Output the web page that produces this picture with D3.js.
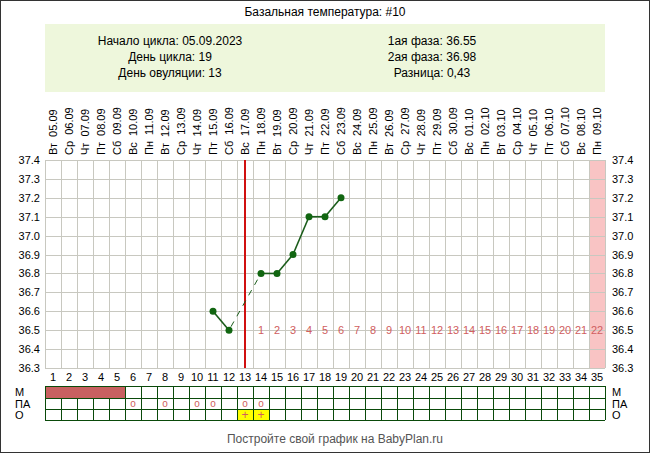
<!DOCTYPE html><html><head><meta charset="utf-8">
<script src="https://cdn.jsdelivr.net/npm/d3@7"></script>
<style>body{margin:0}svg{font-family:Arial,"Liberation Sans",sans-serif}</style></head><body>
<svg id="c" width="650" height="453"></svg>
<script>
const dates=["Вт 05.09","Ср 06.09","Чт 07.09","Пт 08.09","Сб 09.09","Вс 10.09","Пн 11.09","Вт 12.09","Ср 13.09","Чт 14.09","Пт 15.09","Сб 16.09","Вс 17.09","Пн 18.09","Вт 19.09","Ср 20.09","Чт 21.09","Пт 22.09","Сб 23.09","Вс 24.09","Пн 25.09","Вт 26.09","Ср 27.09","Чт 28.09","Пт 29.09","Сб 30.09","Вс 01.10","Пн 02.10","Вт 03.10","Ср 04.10","Чт 05.10","Пт 06.10","Сб 07.10","Вс 08.10","Пн 09.10"];
const tempDays=[11,12,14,15,16,17,18,19];
const temps=[36.6,36.5,36.8,36.8,36.9,37.1,37.1,37.2];
const yTicks=[36.3,36.4,36.5,36.6,36.7,36.8,36.9,37.0,37.1,37.2,37.3,37.4];
const mDays=[1,2,3,4,5];
const paDays=[6,8,10,11,13,14];
const oDays=[13,14];
const ovuDay=13;
const infoLeft=["Начало цикла: 05.09.2023","День цикла: 19","День овуляции: 13"];
const infoRight=["1ая фаза: 36.55","2ая фаза: 36.98","Разница: 0,43"];

const svg=d3.select("#c");
const L=45,R=605,T=160,B=368;
const x=d3.scaleBand().domain(d3.range(1,36)).range([L,R]);
const bw=x.bandwidth();
const cx=d=>x(d)+bw/2;
const y=d3.scaleLinear().domain([36.3,37.4]).range([B,T]);
svg.append("rect").attr("x",0.5).attr("y",0.5).attr("width",649).attr("height",452).attr("fill","#fff").attr("stroke","#333");
svg.append("text").attr("x",325).attr("y",16).attr("text-anchor","middle").attr("font-size",12).text("Базальная температура: #10");
svg.append("rect").attr("x",L).attr("y",24).attr("width",R-L).attr("height",68).attr("fill","#eef7dc");
infoLeft.forEach((t,i)=>svg.append("text").attr("x",170).attr("y",45+i*16).attr("text-anchor","middle").attr("font-size",12).text(t));
infoRight.forEach((t,i)=>svg.append("text").attr("x",432).attr("y",45+i*16).attr("text-anchor","middle").attr("font-size",12).text(t));
svg.append("rect").attr("x",x(35)).attr("y",T).attr("width",bw).attr("height",B-T).attr("fill","#f9c4c4");
const g=svg.append("g").attr("stroke","#c8c8c0").attr("stroke-width",1);
yTicks.forEach(v=>g.append("line").attr("x1",L).attr("x2",R).attr("y1",Math.round(y(v))+.5).attr("y2",Math.round(y(v))+.5));
d3.range(1,37).forEach(d=>{const xx=d<36?x(d):R;g.append("line").attr("x1",Math.round(xx)+.5).attr("x2",Math.round(xx)+.5).attr("y1",T).attr("y2",B);});
yTicks.forEach(v=>{svg.append("text").attr("x",L-5).attr("y",y(v)+4).attr("text-anchor","end").attr("font-size",11).text(v.toFixed(1));
svg.append("text").attr("x",R+7).attr("y",y(v)+4).attr("font-size",11).text(v.toFixed(1));});
dates.forEach((t,i)=>svg.append("text").attr("transform",`translate(${cx(i+1)+4},155) rotate(-90)`).attr("font-size",11).attr("xml:space","preserve").text(t.replace(" ","  ")));
d3.range(1,36).forEach(d=>svg.append("text").attr("x",cx(d)).attr("y",381).attr("text-anchor","middle").attr("font-size",11).text(d));
d3.range(ovuDay+1,36).forEach((d,i)=>svg.append("text").attr("x",cx(d)).attr("y",y(36.5)+4).attr("text-anchor","middle").attr("font-size",11).attr("fill","#d06060").text(i+1));
svg.append("line").attr("x1",cx(ovuDay)).attr("x2",cx(ovuDay)).attr("y1",T).attr("y2",B).attr("stroke","#d01010").attr("stroke-width",2);
const pts=tempDays.map((d,i)=>[cx(d),y(temps[i])]);
const ln=svg.append("g").attr("stroke","#1a5c1a").attr("stroke-width",1.6);
for(let i=0;i<pts.length-1;i++){const gap=tempDays[i+1]-tempDays[i]>1;
 const l=ln.append("line").attr("x1",pts[i][0]).attr("y1",pts[i][1]).attr("x2",pts[i+1][0]).attr("y2",pts[i+1][1]);
 if(gap)l.attr("stroke-dasharray","6,6").attr("stroke-width",1).attr("stroke-dashoffset",-4);}
svg.append("g").selectAll("circle").data(pts).join("circle").attr("cx",d=>d[0]).attr("cy",d=>d[1]).attr("r",3.5).attr("fill","#116611");
const rows=[386,398,409,420];
svg.selectAll(".m").data(mDays).join("rect").attr("x",d=>x(d)).attr("y",rows[0]).attr("width",bw+0.5).attr("height",rows[1]-rows[0]).attr("fill","#c86060");
oDays.forEach(d=>svg.append("rect").attr("x",x(d)+1).attr("y",rows[2]+1).attr("width",bw-1).attr("height",rows[3]-rows[2]-1).attr("fill","#ffff00"));
const tg=svg.append("g").attr("stroke","#0a4a0a").attr("stroke-width",1);
rows.forEach(r=>tg.append("line").attr("x1",L).attr("x2",R).attr("y1",r+.5).attr("y2",r+.5));
d3.range(1,37).forEach(d=>{const xx=Math.round(d<36?x(d):R)+.5;tg.append("line").attr("x1",xx).attr("x2",xx).attr("y1",d<=6?rows[1]:rows[0]).attr("y2",rows[3]);});
tg.append("line").attr("x1",L+.5).attr("x2",L+.5).attr("y1",rows[0]).attr("y2",rows[1]);
tg.append("line").attr("x1",x(6)+.5).attr("x2",x(6)+.5).attr("y1",rows[0]).attr("y2",rows[1]);
paDays.forEach(d=>svg.append("text").attr("x",cx(d)).attr("y",rows[1]+9).attr("text-anchor","middle").attr("font-size",10).attr("fill","#d06060").text("o"));
oDays.forEach(d=>svg.append("text").attr("x",cx(d)).attr("y",rows[2]+10).attr("text-anchor","middle").attr("font-size",12).attr("fill","#d06060").text("+"));
[["М",0],["ПА",1],["О",2]].forEach(([t,i])=>{svg.append("text").attr("x",15).attr("y",rows[i]+10).attr("font-size",11).text(t);svg.append("text").attr("x",R+7).attr("y",rows[i]+10).attr("font-size",11).text(t);});
svg.append("text").attr("x",335).attr("y",443).attr("text-anchor","middle").attr("font-size",12).attr("fill","#555").text("Постройте свой график на BabyPlan.ru");
</script></body></html>
